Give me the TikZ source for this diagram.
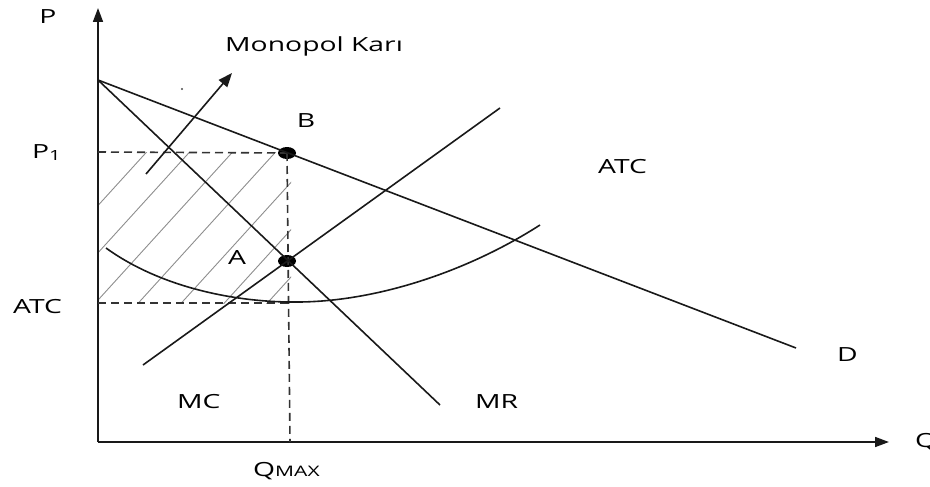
\documentclass[tikz,border=0pt]{standalone}
\usepackage{fontspec}
\setmainfont{Open Sans}
\usetikzlibrary{arrows.meta,shapes.geometric}
\newcommand\sxt[1]{\scalebox{1.45}[1]{#1}}
\tikzset{
  lab/.style={inner sep=0pt, font=\fontsize{19.5}{22}\selectfont},
  curve/.style={line width=1.6pt, black!90},
  axisline/.style={line width=1.6pt, black!90, -{Triangle[length=14pt,width=10pt]}},
  guide/.style={line width=1.6pt, black!80, dash pattern=on 8pt off 5pt},
  hatch/.style={line width=0.9pt, black!45},
  pt/.style={ellipse, fill=black, minimum width=18pt, minimum height=12pt, inner sep=0pt}
}
\begin{document}
\begin{tikzpicture}[x=1pt,y=-1pt]
\useasboundingbox (0,0) rectangle (930,487);
% coordinates
\coordinate (O) at (98,442);
\coordinate (Ytop) at (98,8);
\coordinate (Xend) at (889,442);
\coordinate (Dstart) at (98,80);
\coordinate (Dend) at (796,348);
\coordinate (MRend) at (440,405);
\coordinate (MCs) at (143,365);
\coordinate (MCe) at (500,108);
\coordinate (P1) at (98,152);
\coordinate (ATCy) at (98,303);
\coordinate (Qx) at (290,442);
\coordinate (ATCmin) at (290,303);
% hatch
\begin{scope}
\clip (98,152) rectangle (291,303);
\foreach \xo in {103,146,189,232,275,318,361}{
  \draw[hatch] ({\xo-120/1.1},320) -- ({\xo+90/1.1},110);
}
\end{scope}
% axes
\draw[axisline] (O) -- (Ytop);
\draw[axisline] (O) -- (Xend);
% points
\node[pt] (B) at (287,153) {};
\node[pt] (A) at (287,261) {};
% guides
\draw[guide] (P1) -- (B.center);
\draw[guide] (B.center) -- (Qx);
\draw[guide] (ATCy) -- (ATCmin);
% curves
\draw[curve] (Dstart) -- (Dend);
\draw[curve] (Dstart) -- (MRend);
\draw[curve] (MCs) -- (MCe);
\draw[curve] (106,248) .. controls (160,287) and (235,303) .. (300,302)
                       .. controls (380,301) and (470,270) .. (540,225);
% arrow monopol
\coordinate (arrT) at (146,174);
\coordinate (arrH) at (232,73);
\draw[line width=1.6pt, black!90, -{Triangle[length=14pt,width=11pt]}] (arrT) -- (arrH);
\fill[black!70] (182,89) circle (1.2pt);
% labels
\node[lab, anchor=base] (lP) at (48,24) {\sxt{P}};
\node[lab, anchor=base west] (lP1) at (32,158) {\sxt{P\raisebox{-2.5pt}{\fontsize{14}{16}\selectfont 1}}};
\node[lab, anchor=base west] (lMK) at (225,52) {\sxt{Monopol Karı}};
\node[lab, anchor=base] (lB) at (306,128) {\sxt{B}};
\node[lab, anchor=base] (lA) at (237,264) {\sxt{A}};
\node[lab, anchor=base west] (lATCl) at (13,313) {\sxt{ATC}};
\node[lab, anchor=base west] (lATCr) at (598,173) {\sxt{ATC}};
\node[lab, anchor=base west] (lD) at (837,361) {\sxt{D}};
\node[lab, anchor=base west] (lQ) at (915,447) {\sxt{Q}};
\node[lab, anchor=base west] (lQM) at (253,476) {\sxt{Q{\fontsize{14.5}{16}\selectfont MAX}}};
\node[lab, anchor=base west] (lMC) at (177,408) {\sxt{MC}};
\node[lab, anchor=base west] (lMR) at (475,408) {\sxt{MR}};
\end{tikzpicture}
\end{document}
